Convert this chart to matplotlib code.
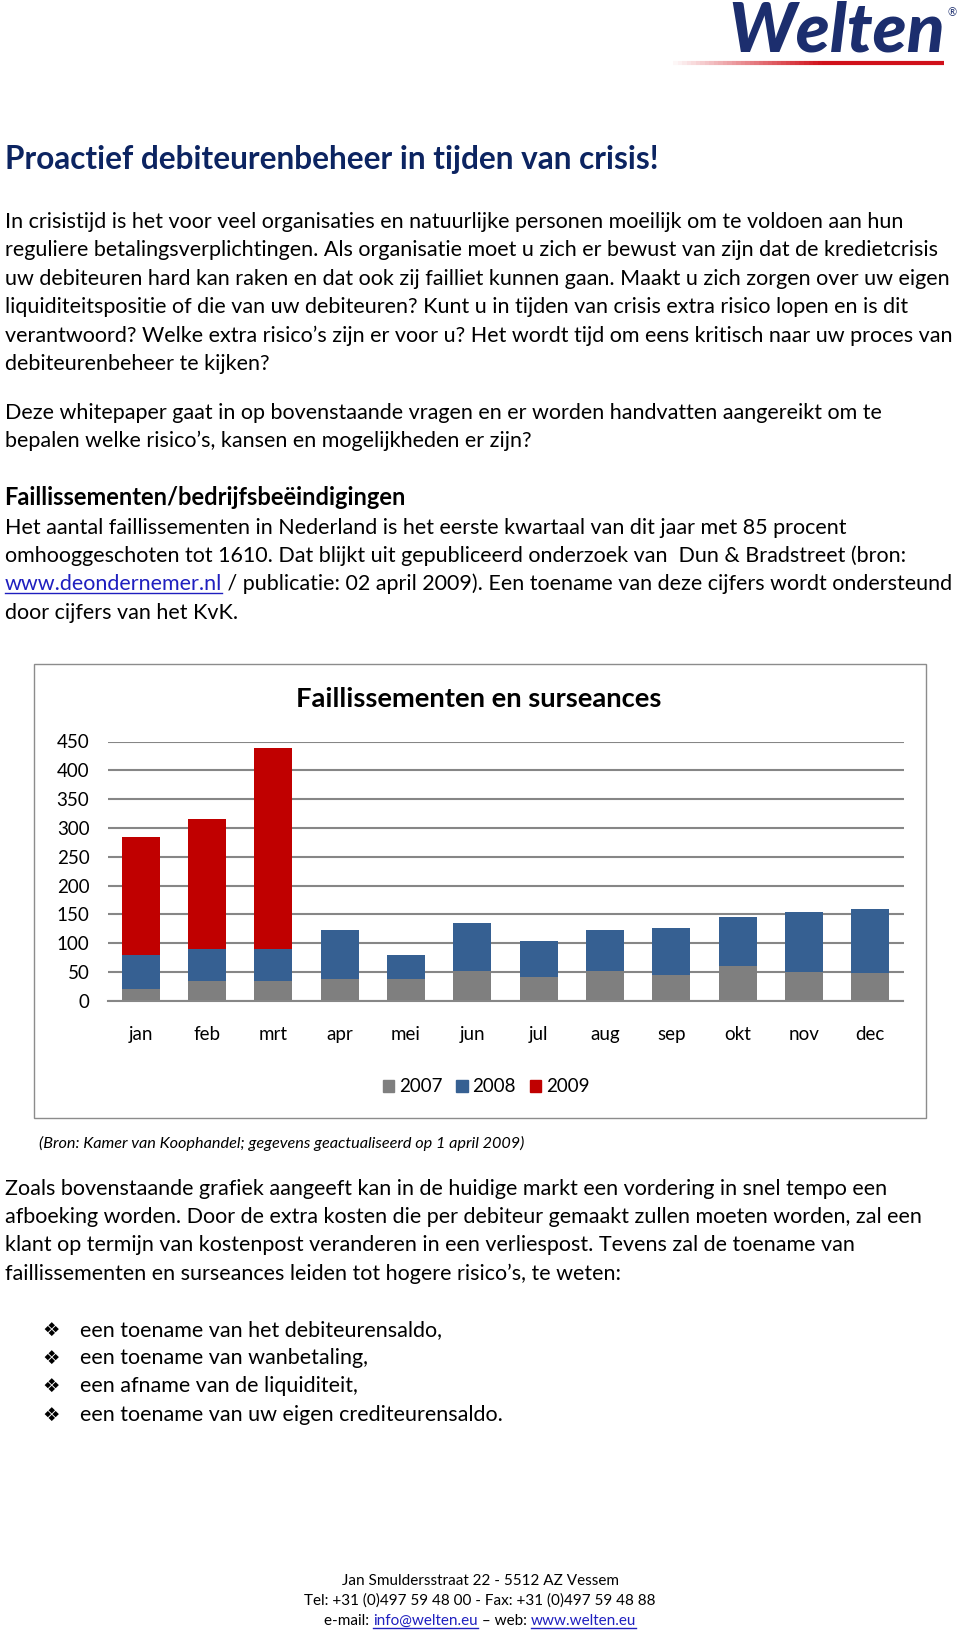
import matplotlib.pyplot as plt
from matplotlib.patches import Rectangle, Patch
from matplotlib.lines import Line2D

plt.rcParams['font.family'] = ['Lato', 'DejaVu Sans']

W, H = 960, 1637

MONTHS = ["jan", "feb", "mrt", "apr", "mei", "jun", "jul", "aug", "sep", "okt", "nov", "dec"]
YEARS = ["2007", "2008", "2009"]
# stacked segment values
V2007 = [21, 35, 35, 39, 39, 52, 41, 52, 45, 61, 51, 48]
V2008 = [58, 55, 55, 84, 40, 84, 63, 71, 82, 84, 103, 111]
V2009 = [206, 226, 348, 0, 0, 0, 0, 0, 0, 0, 0, 0]
COLORS = ["#7f7f7f", "#366092", "#c00000"]

TITLE = "Proactief debiteurenbeheer in tijden van crisis!"
PAR1 = [
    "In crisistijd is het voor veel organisaties en natuurlijke personen moeilijk om te voldoen aan hun",
    "reguliere betalingsverplichtingen. Als organisatie moet u zich er bewust van zijn dat de kredietcrisis",
    "uw debiteuren hard kan raken en dat ook zij failliet kunnen gaan. Maakt u zich zorgen over uw eigen",
    "liquiditeitspositie of die van uw debiteuren? Kunt u in tijden van crisis extra risico lopen en is dit",
    "verantwoord? Welke extra risico\u2019s zijn er voor u? Het wordt tijd om eens kritisch naar uw proces van",
    "debiteurenbeheer te kijken?",
]
PAR2 = [
    "Deze whitepaper gaat in op bovenstaande vragen en er worden handvatten aangereikt om te",
    "bepalen welke risico\u2019s, kansen en mogelijkheden er zijn?",
]
HEAD2 = "Faillissementen/bedrijfsbe\u00ebindigingen"
PAR3 = [
    "Het aantal faillissementen in Nederland is het eerste kwartaal van dit jaar met 85 procent",
    "omhooggeschoten tot 1610. Dat blijkt uit gepubliceerd onderzoek van  Dun & Bradstreet (bron:",
]
PAR3_LINK = "www.deondernemer.nl"
PAR3_REST = " / publicatie: 02 april 2009). Een toename van deze cijfers wordt ondersteund"
PAR3_LAST = "door cijfers van het KvK."
SOURCE = "(Bron: Kamer van Koophandel; gegevens geactualiseerd op 1 april 2009)"
PAR4 = [
    "Zoals bovenstaande grafiek aangeeft kan in de huidige markt een vordering in snel tempo een",
    "afboeking worden. Door de extra kosten die per debiteur gemaakt zullen moeten worden, zal een",
    "klant op termijn van kostenpost veranderen in een verliespost. Tevens zal de toename van",
    "faillissementen en surseances leiden tot hogere risico\u2019s, te weten:",
]
BULLETS = [
    "een toename van het debiteurensaldo,",
    "een toename van wanbetaling,",
    "een afname van de liquiditeit,",
    "een toename van uw eigen crediteurensaldo.",
]
FOOTER1 = "Jan Smuldersstraat 22 - 5512 AZ Vessem"
FOOTER2 = "Tel: +31 (0)497 59 48 00 - Fax: +31 (0)497 59 48 88"

fig = plt.figure(figsize=(W / 100, H / 100), dpi=100)
renderer = fig.canvas.get_renderer()
LINK = "#1f1fbf"
NAVY = "#0c2461"
BODY = 15.5


def fx(x):
    return x / W


def fy(y):
    return 1 - y / H


def txt(x, y, s, **kw):
    kw.setdefault("fontsize", BODY)
    kw.setdefault("va", "baseline")
    return fig.text(fx(x), fy(y), s, **kw)


def after(t):
    return t.get_window_extent(renderer).x1


def link(x, y, s, size=BODY):
    t = txt(x, y, s, color=LINK, fontsize=size)
    x1 = after(t)
    fig.add_artist(Line2D([fx(x), fx(x1)], [fy(y + 3), fy(y + 3)], color=LINK, lw=1))
    return x1


# logo
txt(728, 52, "Welten", fontsize=50, fontweight="black", color="#1c2e6e", style="italic")
txt(948, 16, "\u00ae", fontsize=8, color="#1c2e6e")
n = 60
for i in range(n):
    x0 = 673 + (944 - 673) * i / n
    x1 = 673 + (944 - 673) * (i + 1) / n
    fig.add_artist(Line2D([fx(x0), fx(x1)], [fy(63), fy(63)], color="#d0101a",
                          lw=3, alpha=min(1, (i + 1) / n * 1.8), solid_capstyle="butt"))

txt(5, 169, TITLE, fontsize=22.7, fontweight="bold", color=NAVY)

y = 228
for s in PAR1:
    txt(5, y, s)
    y += 28.4
y = 419
for s in PAR2:
    txt(5, y, s)
    y += 28.4
txt(4, 505, HEAD2, fontweight="bold", fontsize=17)
y = 534
for s in PAR3:
    txt(5, y, s)
    y += 28.2
x1 = link(5, y, PAR3_LINK)
txt(x1, y, PAR3_REST)
txt(5, y + 28.2, PAR3_LAST)

# chart frame
fig.add_artist(Rectangle((fx(34), fy(1118)), (926 - 34) / W, (1118 - 664) / H,
                         transform=fig.transFigure, fill=False, ec="#8c8c8c", lw=1))
fig.text(fx(479), fy(699), "Faillissementen en surseances", fontsize=19.7,
         fontweight="bold", ha="center", va="center")

ax = fig.add_axes([fx(107.5), fy(1001), (903.5 - 107.5) / W, (1001 - 741.5) / H])
xs = range(len(MONTHS))
bottom = [0] * len(MONTHS)
for vals, c in zip([V2007, V2008, V2009], COLORS):
    ax.bar(xs, vals, bottom=bottom, width=0.57, color=c)
    bottom = [b + v for b, v in zip(bottom, vals)]
ax.set_xlim(-0.5, len(MONTHS) - 0.5)
ax.set_ylim(0, 450)
ax.set_yticks(range(0, 451, 50))
ax.set_xticks(list(xs))
ax.set_xticklabels(MONTHS)
ax.tick_params(axis="both", length=0, labelsize=13.5)
ax.tick_params(axis="x", pad=18)
ax.tick_params(axis="y", pad=13)
ax.yaxis.grid(True, color="#868686", lw=1.5)
ax.set_axisbelow(True)
for sp in ["top", "left", "right"]:
    ax.spines[sp].set_visible(False)
ax.spines["bottom"].set_color("#868686")
ax.spines["bottom"].set_linewidth(1.5)

handles = [Patch(color=c) for c in COLORS]
fig.legend(handles, YEARS, loc="center", bbox_to_anchor=(fx(486), fy(1087)), ncol=3,
           frameon=False, fontsize=13.5, handlelength=0.6, handleheight=0.6,
           handletextpad=0.25, columnspacing=0.75)

txt(39, 1148, SOURCE, fontsize=11.7, style="italic")

y = 1195
for s in PAR4:
    txt(5, y, s)
    y += 28.2
y = 1336
for s in BULLETS:
    txt(42, y, "\u2756", fontsize=14, family=["DejaVu Sans"])
    txt(80, y, s)
    y += 28.2

# footer
txt(480, 1585, FOOTER1, fontsize=11, ha="center")
txt(480, 1605, FOOTER2, fontsize=11, ha="center")
parts = [("e-mail: ", False), ("info@welten.eu", True), (" \u2013 web: ", False), ("www.welten.eu", True)]
tmp = [fig.text(0, 0, s, fontsize=11) for s, _ in parts]
total = sum(t.get_window_extent(renderer).width for t in tmp)
for t in tmp:
    t.remove()
x = 480 - total / 2
for s, is_link in parts:
    if is_link:
        x = link(x, 1625, s, size=11)
    else:
        x = after(txt(x, 1625, s, fontsize=11))

fig.savefig("out.png", dpi=100)
